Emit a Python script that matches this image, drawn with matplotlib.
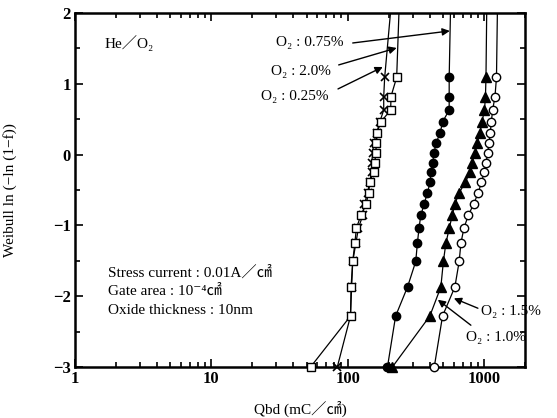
import matplotlib
matplotlib.use('Agg')
import matplotlib.pyplot as plt
from matplotlib.ticker import FixedLocator, MultipleLocator, NullFormatter, LogLocator

plt.rcParams['font.family'] = ['Liberation Serif', 'DejaVu Serif', 'Noto Sans CJK JP']

# Weibull plot positions shared by all series
weibull = [-3.0, -2.28, -1.87, -1.51, -1.25, -1.04, -0.86, -0.70, -0.54, -0.39,
           -0.25, -0.12, 0.02, 0.16, 0.30, 0.46, 0.63, 0.82, 1.09]

# Qbd values (mC/cm2) for each O2 concentration
qbd_o2_025 = [84, 105, 107, 109, 115, 120, 129, 133, 140, 145,
              150, 150, 153, 155, 163, 172, 184, 184, 187]          # crosses
qbd_o2_20 = [53.5, 105, 106, 109, 113, 116, 125, 136, 143, 145,
             155, 158, 161, 162, 164, 175, 207, 208, 229]           # open squares
qbd_o2_075 = [196, 225, 275, 316, 325, 334, 344, 364, 385, 403,
              408, 420, 431, 444, 477, 497, 556, 556, 556]          # filled circles
qbd_o2_10 = [213, 401, 483, 504, 526, 557, 585, 612, 658, 731,
             789, 816, 859, 889, 935, 967, 1009, 1026, 1035]        # filled triangles
qbd_o2_15 = [432, 497, 612, 658, 678, 713, 767, 840, 908, 959,
             1005, 1035, 1065, 1088, 1112, 1132, 1159, 1205, 1236]  # open circles

# where each line leaves the top of the plot
top_y = 2.3
top_x = {'0.25': 213, '2.0': 241, '0.75': 572, '1.0': 1052, '1.5': 1261}

x_ticks = [1, 10, 100, 1000]
x_ticklabels = ['1', '10', '100', '1000']
y_ticks = [2, 1, 0, -1, -2, -3]
y_ticklabels = ['2', '1', '0', '−1', '−2', '−3']

fig = plt.figure(figsize=(5.57, 4.18), dpi=100)
ax = fig.add_axes([0.1346, 0.122, 0.8079, 0.847])
ax.set_xscale('log')
ax.set_xlim(1, 2000)
ax.set_ylim(-3, 2)

series = [
    (qbd_o2_025, '0.25', dict(marker='x', mfc='black', mec='black', ms=6, mew=1.2)),
    (qbd_o2_20, '2.0', dict(marker='s', mfc='white', mec='black', ms=6, mew=1.0)),
    (qbd_o2_075, '0.75', dict(marker='o', mfc='black', mec='black', ms=6, mew=1.0)),
    (qbd_o2_10, '1.0', dict(marker='^', mfc='black', mec='black', ms=6.5, mew=1.0)),
    (qbd_o2_15, '1.5', dict(marker='o', mfc='white', mec='black', ms=6, mew=1.0)),
]
for xs, key, mk in series:
    ax.plot(list(xs) + [top_x[key]], list(weibull) + [top_y], color='black', lw=0.9, zorder=2)
    ax.plot(xs, weibull, ls='none', clip_on=False, zorder=3, **mk)

# ticks
ax.xaxis.set_major_locator(FixedLocator(x_ticks))
ax.set_xticklabels(x_ticklabels)
ax.xaxis.set_minor_locator(LogLocator(base=10, subs=range(2, 10)))
ax.xaxis.set_minor_formatter(NullFormatter())
ax.yaxis.set_major_locator(FixedLocator(y_ticks))
ax.set_yticklabels(y_ticklabels)
ax.yaxis.set_minor_locator(MultipleLocator(0.5))
ax.tick_params(which='both', direction='in', top=True, right=True, width=1.2)
ax.tick_params(which='major', length=6, labelsize=12, pad=3)
ax.tick_params(which='minor', length=3.5)
for lab in ax.get_xticklabels() + ax.get_yticklabels():
    lab.set_fontweight('bold')
for sp in ax.spines.values():
    sp.set_linewidth(1.8)

ax.set_xlabel('Qbd (mC／㎠)', fontsize=11, labelpad=10)
ax.set_ylabel('Weibull ln (−ln (1−f))', fontsize=11, labelpad=26)

txt = dict(fontsize=11, color='black')
ax.text(1.66, 1.58, 'He／O₂', ha='left', va='center', **txt)
ax.text(1.75, -1.66, 'Stress current : 0.01A／㎠', ha='left', va='center', **txt)
ax.text(1.75, -1.93, 'Gate area : 10⁻⁴㎠', ha='left', va='center', **txt)
ax.text(1.75, -2.20, 'Oxide thickness : 10nm', ha='left', va='center', **txt)

ap = dict(arrowstyle='-|>', lw=1.0, color='black', mutation_scale=11, shrinkA=0, shrinkB=0)
ax.text(93.5, 1.58, 'O₂ : 0.75%', ha='right', va='center', **txt)
ax.annotate('', xy=(562, 1.746), xytext=(109, 1.576), arrowprops=ap)
ax.text(75, 1.167, 'O₂ : 2.0%', ha='right', va='center', **txt)
ax.annotate('', xy=(229, 1.506), xytext=(86, 1.266), arrowprops=ap)
ax.text(72.5, 0.814, 'O₂ : 0.25%', ha='right', va='center', **txt)
ax.annotate('', xy=(181, 1.237), xytext=(85, 0.927), arrowprops=ap)

ax.text(950, -2.22, 'O₂ : 1.5%', ha='left', va='center', clip_on=False, **txt)
ax.annotate('', xy=(602, -2.03), xytext=(903, -2.17), arrowprops=ap)
ax.text(738, -2.58, 'O₂ : 1.0%', ha='left', va='center', clip_on=False, **txt)
ax.annotate('', xy=(459, -2.05), xytext=(802, -2.41), arrowprops=ap)

fig.savefig('out.png', dpi=100)
